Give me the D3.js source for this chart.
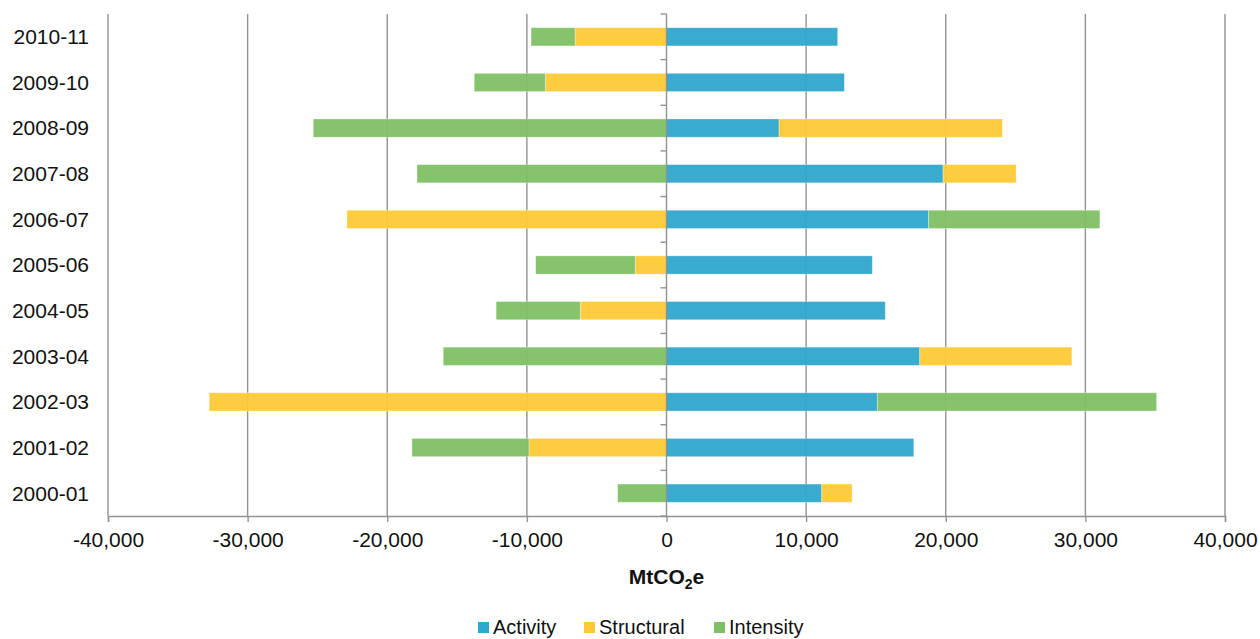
<!DOCTYPE html>
<html>
<head>
<meta charset="utf-8">
<script src="https://cdn.jsdelivr.net/npm/d3@7"></script>
<style>
  html, body { margin: 0; padding: 0; background: #fff; }
  svg { display: block; font-family: "Liberation Sans", Arial, sans-serif; }
</style>
</head>
<body>
<svg id="chart" width="1260" height="639"></svg>
<script>
// Decomposition of emissions change by year (MtCO2e)
const categories = ["2000-01", "2001-02", "2002-03", "2003-04", "2004-05", "2005-06",
                    "2006-07", "2007-08", "2008-09", "2009-10", "2010-11"];
const seriesNames = ["Activity", "Structural", "Intensity"];
const activity   = [11120, 17710, 15100, 18140, 15670, 14740, 18760, 19810,  8060, 12740, 12260];
const structural = [ 2170, -9850, -32750, 10890, -6180, -2240, -22890, 5230, 16000, -8680, -6550];
const intensity  = [-3500, -8380, 20000, -15990, -6020, -7130, 12280, -17870, -25300, -5090, -3150];
const xTicks = [-40000, -30000, -20000, -10000, 0, 10000, 20000, 30000, 40000];
const colors = ["#2ea7cc", "#fec935", "#80c065"];

const rows = categories.map((c, i) => ({
  category: c, Activity: activity[i], Structural: structural[i], Intensity: intensity[i]
}));

const svg = d3.select("#chart");
const plot = { left: 108, right: 1225, top: 14, bottom: 516 };
const fontSize = 21;

const x = d3.scaleLinear().domain([-40000, 40000]).range([plot.left, plot.right]);
const y = d3.scaleBand()
  .domain(categories.slice().reverse())
  .range([plot.top, plot.bottom])
  .paddingInner(0.6).paddingOuter(0.3);

const gridColor = "#929292";

// vertical gridlines
svg.append("g")
  .selectAll("line")
  .data(xTicks.filter(t => t !== 0))
  .join("line")
  .attr("x1", d => x(d)).attr("x2", d => x(d))
  .attr("y1", plot.top).attr("y2", plot.bottom)
  .attr("stroke", gridColor).attr("stroke-width", 1.4);

// stacked bars, diverging from zero
const stack = d3.stack().keys(seriesNames).offset(d3.stackOffsetDiverging);
const layers = stack(rows);

svg.append("g")
  .selectAll("g")
  .data(layers)
  .join("g")
  .attr("fill", (d, i) => colors[i])
  .selectAll("rect")
  .data(d => d)
  .join("rect")
  .attr("x", d => x(Math.min(d[0], d[1])))
  .attr("width", d => Math.abs(x(d[1]) - x(d[0])))
  .attr("y", d => y(d.data.category))
  .attr("height", y.bandwidth())
  .attr("fill-opacity", 0.95)
  .attr("stroke", "#ffffff")
  .attr("stroke-opacity", 0.4)
  .attr("stroke-width", 0.8);

// category axis along zero
const yAxis = svg.append("g")
  .attr("transform", `translate(${x(0)},0)`);
yAxis.append("line")
  .attr("x1", 0).attr("x2", 0)
  .attr("y1", plot.top).attr("y2", plot.bottom)
  .attr("stroke", gridColor).attr("stroke-width", 1.4);
const bandStarts = categories.slice().reverse().map(c => y(c) - y.step() * y.paddingInner() / 2);
yAxis.selectAll("line.tick")
  .data(bandStarts.concat([plot.bottom]))
  .join("line")
  .attr("class", "tick")
  .attr("x1", -6).attr("x2", 0)
  .attr("y1", d => d).attr("y2", d => d)
  .attr("stroke", gridColor).attr("stroke-width", 1.4);

// category labels on the left
svg.append("g")
  .selectAll("text")
  .data(categories)
  .join("text")
  .attr("x", 89)
  .attr("y", d => y(d) + y.bandwidth() / 2)
  .attr("dy", "0.35em")
  .attr("text-anchor", "end")
  .attr("font-size", fontSize)
  .attr("fill", "#111")
  .text(d => d);

// value axis at bottom
const xAxis = d3.axisBottom(x)
  .tickValues(xTicks)
  .tickSize(6)
  .tickPadding(10)
  .tickFormat(d3.format(","));
const gx = svg.append("g")
  .attr("transform", `translate(0,${plot.bottom})`)
  .call(xAxis);
gx.select(".domain").attr("stroke", gridColor).attr("stroke-width", 1.4);
gx.selectAll(".tick line").attr("stroke", gridColor).attr("stroke-width", 1.4);
gx.selectAll(".tick text")
  .attr("font-size", fontSize)
  .attr("font-family", "Liberation Sans, Arial, sans-serif")
  .attr("fill", "#111")
  .text(d => d < 0 ? "-" + d3.format(",")(-d) : d3.format(",")(d));

// axis title
const title = svg.append("text")
  .attr("x", x(0))
  .attr("y", 584)
  .attr("text-anchor", "middle")
  .attr("font-size", fontSize)
  .attr("font-weight", "bold")
  .attr("fill", "#111");
title.append("tspan").text("MtCO");
title.append("tspan").attr("font-size", 14).attr("dy", 5).text("2");
title.append("tspan").attr("dy", -5).text("e");

// legend
const legendItems = [
  { name: "Activity", x: 478 },
  { name: "Structural", x: 584 },
  { name: "Intensity", x: 714 }
];
const legend = svg.append("g");
legendItems.forEach((item, i) => {
  legend.append("rect")
    .attr("x", item.x).attr("y", 622)
    .attr("width", 11).attr("height", 11)
    .attr("fill", colors[i]);
  legend.append("text")
    .attr("x", item.x + 15).attr("y", 634)
    .attr("font-size", 20)
    .attr("fill", "#111")
    .text(item.name);
});
</script>
</body>
</html>
